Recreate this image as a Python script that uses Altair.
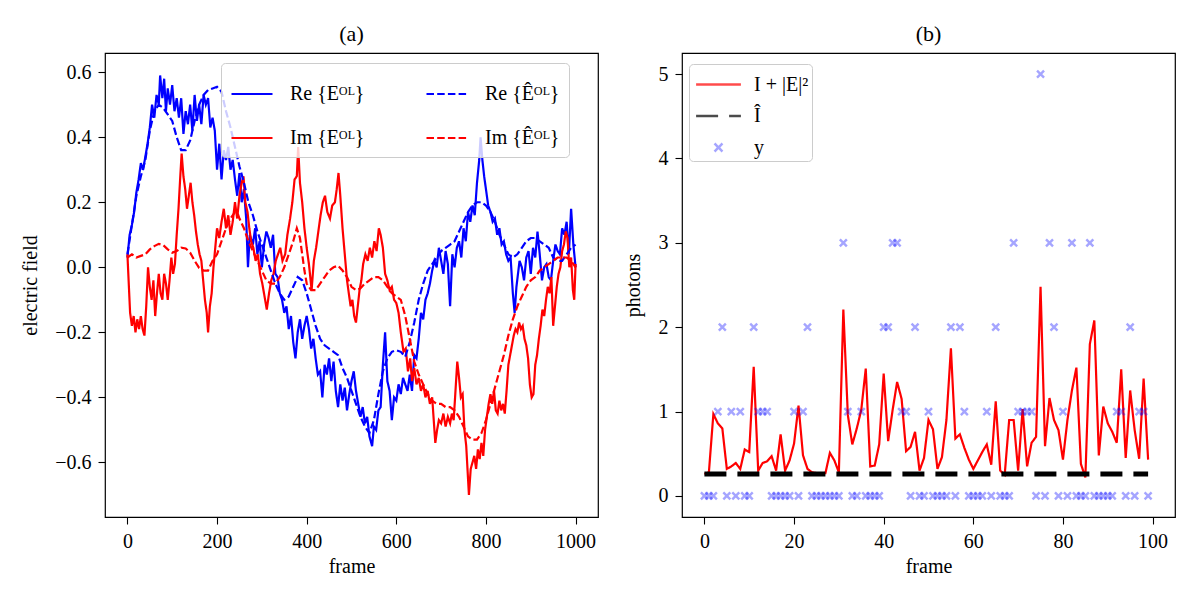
import altair as alt
import pandas as pd

FONT = "Liberation Serif"

# ---------------- panel (a): electric field, (frame, value) samples ----------------
re_field = [
    (0, 0.03), (5, 0.10), (10, 0.13), (15, 0.17), (20, 0.23), (25, 0.27), (30, 0.32), (35, 0.30),
    (40, 0.34), (45, 0.38), (50, 0.43), (55, 0.50), (60, 0.46), (65, 0.53), (70, 0.50), (73, 0.59),
    (78, 0.52), (82, 0.58), (86, 0.48), (90, 0.55), (95, 0.50), (100, 0.56), (105, 0.48), (110, 0.52),
    (115, 0.46), (120, 0.52), (125, 0.41), (130, 0.48), (135, 0.44), (140, 0.50), (145, 0.42),
    (150, 0.53), (155, 0.45), (160, 0.50), (165, 0.44), (170, 0.53), (175, 0.50), (180, 0.52),
    (185, 0.43), (190, 0.46), (195, 0.42), (200, 0.30), (205, 0.38), (210, 0.27), (215, 0.36),
    (220, 0.33), (225, 0.37), (230, 0.30), (235, 0.33), (240, 0.27), (245, 0.22), (250, 0.29),
    (255, 0.20), (260, 0.24), (265, 0.15), (269, 0.00), (273, 0.10), (280, 0.07), (285, 0.12),
    (290, 0.04), (295, 0.08), (300, 0.00), (305, 0.07), (310, 0.11), (315, 0.09), (320, 0.06),
    (325, 0.10), (330, -0.02), (335, -0.03), (340, -0.08), (345, -0.10), (350, -0.14), (355, -0.12),
    (360, -0.19), (365, -0.15), (370, -0.23), (375, -0.28), (380, -0.20), (385, -0.16), (390, -0.22),
    (395, -0.18), (400, -0.15), (405, -0.19), (410, -0.25), (415, -0.22), (420, -0.28), (425, -0.33),
    (430, -0.32), (435, -0.40), (440, -0.30), (445, -0.33), (450, -0.28), (455, -0.35), (460, -0.29),
    (465, -0.38), (470, -0.43), (475, -0.36), (480, -0.41), (485, -0.37), (490, -0.44), (495, -0.39),
    (500, -0.35), (505, -0.32), (510, -0.38), (515, -0.42), (520, -0.46), (525, -0.43), (530, -0.48),
    (535, -0.46), (540, -0.52), (546, -0.55), (550, -0.49), (555, -0.50), (560, -0.44), (565, -0.43),
    (570, -0.30), (575, -0.20), (580, -0.35), (585, -0.38), (590, -0.47), (595, -0.40), (600, -0.41),
    (605, -0.36), (610, -0.39), (615, -0.34), (620, -0.36), (625, -0.38), (630, -0.33), (635, -0.38),
    (640, -0.27), (645, -0.28), (650, -0.22), (655, -0.14), (660, -0.16), (665, -0.10), (670, -0.08),
    (675, -0.05), (680, -0.01), (685, 0.02), (690, 0.00), (695, 0.06), (700, 0.02), (705, -0.02),
    (710, 0.05), (715, 0.01), (720, -0.12), (725, 0.04), (730, 0.00), (735, 0.06), (740, 0.08),
    (745, 0.03), (750, 0.12), (755, 0.08), (760, 0.17), (765, 0.14), (770, 0.19), (775, 0.16),
    (780, 0.26), (785, 0.33), (788, 0.40), (792, 0.33), (796, 0.28), (800, 0.24), (805, 0.19),
    (810, 0.17), (815, 0.14), (820, 0.15), (825, 0.10), (830, 0.12), (835, 0.07), (840, 0.08),
    (845, 0.04), (850, 0.02), (855, 0.03), (860, -0.08), (864, -0.14), (868, -0.06), (875, 0.02),
    (880, 0.00), (885, -0.04), (890, 0.03), (895, 0.05), (900, -0.02), (905, 0.06), (910, 0.03),
    (915, 0.11), (920, 0.04), (925, -0.04), (930, 0.00), (935, 0.01), (940, -0.03), (945, -0.04),
    (950, 0.02), (955, 0.07), (960, 0.05), (965, 0.04), (970, 0.12), (975, 0.10), (980, 0.14),
    (985, 0.04), (990, 0.18), (995, 0.07), (1000, 0.00),
]

im_field = [
    (0, 0.04), (3, -0.05), (6, -0.14), (10, -0.18), (14, -0.15), (18, -0.20), (22, -0.16), (26, -0.19),
    (30, -0.15), (34, -0.19), (38, -0.21), (42, -0.12), (46, 0.00), (50, -0.06), (54, -0.10),
    (58, -0.04), (62, -0.15), (66, -0.08), (70, -0.02), (74, -0.08), (78, -0.10), (82, -0.02),
    (86, -0.05), (90, -0.10), (94, -0.04), (98, 0.03), (102, -0.02), (106, 0.01), (110, 0.10),
    (114, 0.18), (118, 0.28), (121, 0.35), (125, 0.28), (129, 0.24), (133, 0.18), (137, 0.22),
    (141, 0.26), (145, 0.20), (149, 0.16), (153, 0.11), (157, 0.07), (161, 0.04), (165, 0.02),
    (169, -0.04), (173, -0.10), (177, -0.14), (180, -0.20), (184, -0.12), (188, -0.08), (192, 0.00),
    (196, 0.06), (200, 0.12), (205, 0.09), (210, 0.14), (215, 0.18), (220, 0.12), (225, 0.16),
    (230, 0.10), (235, 0.14), (240, 0.20), (245, 0.15), (250, 0.22), (255, 0.26), (259, 0.28),
    (263, 0.20), (268, 0.17), (272, 0.12), (276, 0.08), (281, 0.06), (286, 0.02), (291, 0.04),
    (296, -0.02), (301, -0.05), (306, -0.09), (311, -0.13), (316, -0.08), (321, -0.04), (326, -0.02),
    (331, 0.02), (336, 0.04), (341, 0.06), (346, 0.02), (352, 0.04), (357, 0.10), (363, 0.15),
    (368, 0.20), (373, 0.27), (378, 0.28), (381, 0.37), (385, 0.26), (390, 0.20), (395, 0.12),
    (400, 0.06), (405, 0.01), (411, -0.07), (416, 0.02), (421, 0.06), (426, 0.11), (431, 0.16),
    (436, 0.20), (441, 0.22), (446, 0.17), (452, 0.15), (457, 0.19), (463, 0.20), (467, 0.24),
    (471, 0.29), (475, 0.22), (480, 0.12), (485, 0.04), (490, -0.04), (494, -0.08), (498, -0.12),
    (502, -0.10), (506, -0.15), (510, -0.17), (514, -0.12), (518, -0.07), (522, -0.04), (526, 0.01),
    (531, 0.04), (536, 0.02), (541, 0.06), (546, 0.03), (551, 0.08), (556, 0.05), (561, 0.12),
    (565, 0.10), (570, 0.06), (575, -0.02), (580, -0.04), (585, -0.07), (590, -0.06), (595, -0.10),
    (600, -0.11), (605, -0.14), (610, -0.20), (616, -0.26), (621, -0.25), (626, -0.32), (631, -0.28),
    (635, -0.35), (640, -0.31), (645, -0.36), (650, -0.34), (655, -0.38), (660, -0.36), (665, -0.40),
    (670, -0.38), (675, -0.42), (680, -0.40), (684, -0.48), (687, -0.54), (691, -0.50), (695, -0.47),
    (700, -0.48), (705, -0.45), (710, -0.49), (715, -0.46), (720, -0.48), (724, -0.45), (728, -0.47),
    (732, -0.38), (736, -0.29), (740, -0.34), (744, -0.40), (748, -0.39), (752, -0.50), (756, -0.55),
    (760, -0.65), (762, -0.70), (766, -0.62), (770, -0.60), (774, -0.58), (778, -0.62), (782, -0.56),
    (786, -0.59), (790, -0.54), (794, -0.58), (798, -0.50), (802, -0.46), (806, -0.42), (810, -0.39),
    (814, -0.42), (818, -0.38), (822, -0.44), (826, -0.45), (830, -0.41), (834, -0.44), (838, -0.42),
    (842, -0.45), (846, -0.38), (850, -0.30), (854, -0.27), (858, -0.24), (862, -0.21), (866, -0.19),
    (870, -0.20), (874, -0.17), (878, -0.19), (882, -0.18), (886, -0.22), (890, -0.24), (894, -0.28),
    (898, -0.36), (902, -0.40), (906, -0.39), (910, -0.30), (914, -0.27), (918, -0.22), (922, -0.18),
    (926, -0.13), (930, -0.15), (934, -0.10), (938, -0.06), (942, -0.08), (946, -0.03), (950, -0.18),
    (954, -0.12), (958, -0.06), (962, -0.02), (966, 0.00), (970, 0.05), (974, 0.07), (978, 0.11),
    (982, 0.09), (986, 0.00), (990, 0.03), (994, -0.07), (997, -0.10), (1000, 0.01),
]

re_field_est = [
    (0, 0.04), (10, 0.13), (20, 0.22), (30, 0.28), (40, 0.33), (50, 0.42), (60, 0.48), (70, 0.50),
    (80, 0.49), (90, 0.47), (100, 0.45), (110, 0.40), (120, 0.36), (130, 0.36), (140, 0.39),
    (150, 0.45), (160, 0.50), (170, 0.53), (180, 0.545), (190, 0.55), (200, 0.555), (210, 0.54),
    (220, 0.48), (230, 0.43), (240, 0.37), (250, 0.31), (260, 0.26), (270, 0.20), (280, 0.16),
    (290, 0.11), (300, 0.07), (310, 0.03), (320, -0.01), (330, -0.05), (340, -0.08), (350, -0.10),
    (360, -0.09), (370, -0.06), (380, -0.03), (390, -0.04), (400, -0.08), (410, -0.13), (420, -0.18),
    (430, -0.22), (440, -0.24), (450, -0.25), (460, -0.26), (470, -0.27), (480, -0.31), (490, -0.34),
    (500, -0.38), (510, -0.42), (520, -0.46), (530, -0.49), (540, -0.51), (550, -0.47), (560, -0.39),
    (570, -0.32), (580, -0.28), (590, -0.26), (600, -0.255), (610, -0.26), (620, -0.275), (630, -0.23),
    (640, -0.17), (650, -0.10), (660, -0.05), (670, -0.01), (680, 0.01), (690, 0.03), (700, 0.05),
    (710, 0.06), (720, 0.07), (730, 0.08), (740, 0.11), (750, 0.14), (760, 0.17), (770, 0.19),
    (780, 0.20), (790, 0.20), (800, 0.19), (810, 0.17), (820, 0.14), (830, 0.10), (840, 0.07),
    (850, 0.04), (860, 0.03), (870, 0.04), (880, 0.06), (890, 0.08), (900, 0.09), (910, 0.09),
    (920, 0.08), (930, 0.07), (940, 0.06), (950, 0.03), (960, 0.02), (970, 0.02), (980, 0.04),
    (990, 0.06), (1000, 0.07),
]

im_field_est = [
    (0, 0.03), (10, 0.04), (20, 0.03), (30, 0.035), (40, 0.04), (50, 0.055), (60, 0.065), (70, 0.072),
    (80, 0.068), (90, 0.055), (100, 0.045), (110, 0.05), (120, 0.06), (130, 0.058), (140, 0.045),
    (150, 0.02), (160, -0.002), (170, -0.01), (180, -0.01), (190, 0.02), (200, 0.04), (210, 0.08),
    (220, 0.12), (230, 0.15), (240, 0.17), (245, 0.17), (250, 0.15), (260, 0.12), (270, 0.08),
    (280, 0.05), (290, 0.02), (300, -0.01), (310, -0.04), (320, -0.05), (330, -0.05), (340, -0.03),
    (350, 0.00), (360, 0.04), (370, 0.08), (378, 0.12), (385, 0.09), (390, 0.04), (395, -0.01),
    (400, -0.05), (410, -0.07), (420, -0.07), (430, -0.05), (440, -0.03), (450, -0.01), (460, 0.00),
    (470, 0.005), (480, -0.01), (490, -0.03), (500, -0.06), (510, -0.07), (520, -0.065), (530, -0.05),
    (540, -0.04), (550, -0.03), (560, -0.03), (570, -0.04), (580, -0.06), (590, -0.08), (600, -0.09),
    (610, -0.10), (620, -0.15), (630, -0.22), (640, -0.29), (650, -0.33), (660, -0.36), (670, -0.39),
    (680, -0.41), (690, -0.42), (700, -0.42), (710, -0.43), (720, -0.43), (730, -0.44), (740, -0.46),
    (750, -0.49), (760, -0.52), (770, -0.53), (780, -0.53), (790, -0.51), (800, -0.47), (810, -0.42),
    (820, -0.37), (830, -0.32), (840, -0.27), (850, -0.21), (860, -0.16), (870, -0.12), (880, -0.09),
    (890, -0.06), (900, -0.04), (910, -0.03), (920, -0.01), (930, 0.00), (940, 0.01), (950, 0.02),
    (960, 0.03), (970, 0.03), (980, 0.03), (990, 0.02), (1000, 0.00),
]

# ---------------- panel (b): photons per frame ----------------
photon_frames = list(range(100))
intensity_plus_field = [
    0.26, 0.28, 0.97, 0.86, 0.80, 0.32, 0.35, 0.39, 0.32, 0.55,
    0.52, 1.53, 0.30, 0.39, 0.41, 0.47, 0.30, 0.73, 0.30, 0.42,
    0.62, 1.07, 0.48, 0.32, 0.28, 0.27, 0.27, 0.27, 0.51, 0.42,
    0.28, 2.21, 0.96, 0.61, 0.80, 1.02, 1.51, 0.35, 0.36, 0.61,
    1.45, 0.65, 1.02, 1.35, 1.15, 0.53, 0.58, 0.76, 0.30, 0.45,
    0.90, 0.79, 0.32, 0.46, 0.90, 1.75, 0.68, 0.73, 0.57, 0.43,
    0.32, 0.42, 0.52, 0.61, 0.37, 1.12, 0.30, 0.25, 0.90, 0.90,
    0.30, 1.03, 0.35, 0.63, 0.70, 2.48, 0.59, 1.16, 0.90, 0.78,
    0.43, 0.90, 1.25, 1.52, 0.38, 0.22, 1.80, 2.08, 0.48, 1.06,
    0.86, 0.76, 0.63, 1.50, 0.45, 1.25, 0.78, 0.44, 1.39, 0.43,
]
intensity_est = 0.26
photon_counts = [
    0, 0, 0, 1, 2, 0, 1, 0, 1, 0,
    0, 2, 1, 1, 1, 0, 0, 0, 0, 0,
    1, 0, 1, 2, 0, 0, 0, 0, 0, 0,
    0, 3, 1, 0, 0, 1, 0, 0, 0, 0,
    2, 2, 3, 3, 1, 1, 0, 2, 0, 0,
    1, 0, 0, 0, 0, 2, 0, 2, 1, 0,
    0, 0, 0, 1, 0, 2, 0, 0, 0, 3,
    1, 1, 1, 1, 0, 5, 0, 3, 2, 0,
    1, 0, 3, 0, 0, 0, 3, 0, 0, 0,
    0, 0, 1, 1, 0, 2, 0, 1, 1, 0,
]

LBL_RE = "Re {E\u1d3c\u1d38}"
LBL_IM = "Im {E\u1d3c\u1d38}"
LBL_RE_EST = "Re {\u00ca\u1d3c\u1d38}"
LBL_IM_EST = "Im {\u00ca\u1d3c\u1d38}"
LBL_I = "I + |E|\u00b2"
LBL_IHAT = "\u00ce"
LBL_Y = "y"


def pairs_table(pairs, name):
    return pd.DataFrame({"frame": [p[0] for p in pairs],
                         "value": [p[1] for p in pairs],
                         "series": name})


SOLID = [1, 0]
FIELD_DASH = [7.5, 3.2]
LINE_W = 2.2

# ---------- (a) ----------
# legend columns are filled top-to-bottom, so the true fields come first
field_domain = [LBL_RE, LBL_IM, LBL_RE_EST, LBL_IM_EST]
legend_a = alt.Legend(
    title=None, orient="none", legendX=116, legendY=10, columns=2,
    columnPadding=57, rowPadding=12, padding=9,
    symbolType="stroke", symbolSize=1681, symbolStrokeWidth=LINE_W,
    labelOffset=16, labelFont=FONT, labelFontSize=20, labelColor="black",
    fillColor="rgba(255,255,255,0.8)", strokeColor="#cccccc", cornerRadius=4,
)
x_a = alt.X("frame:Q", title="frame",
            scale=alt.Scale(domain=[-50, 1050], nice=False, zero=False),
            axis=alt.Axis(values=[0, 200, 400, 600, 800, 1000], format="d"))
y_a = alt.Y("value:Q", title="electric field",
            scale=alt.Scale(domain=[-0.768, 0.659], nice=False, zero=False),
            axis=alt.Axis(values=[-0.6, -0.4, -0.2, 0.0, 0.2, 0.4, 0.6], format=".1f",
                          titlePadding=14))
color_a = alt.Color("series:N",
                    scale=alt.Scale(domain=field_domain,
                                    range=["#0000ff", "#ff0000", "#0000ff", "#ff0000"]),
                    legend=legend_a)
dash_a = alt.StrokeDash("series:N",
                        scale=alt.Scale(domain=field_domain,
                                        range=[SOLID, SOLID, FIELD_DASH, FIELD_DASH]),
                        legend=legend_a)

field_layers = [
    alt.Chart(pairs_table(pairs, name)).mark_line(strokeWidth=LINE_W).encode(
        x=x_a, y=y_a, color=color_a, strokeDash=dash_a)
    for pairs, name in [(re_field, LBL_RE), (im_field, LBL_IM),
                        (re_field_est, LBL_RE_EST), (im_field_est, LBL_IM_EST)]
]
panel_a = alt.layer(*field_layers).properties(width=493, height=464, title="(a)")

# ---------- (b) ----------
LINE_GLYPH = "M-1.4,0L1.4,0"
CROSS_GLYPH = "M-0.25,-0.25L0.25,0.25M-0.25,0.25L0.25,-0.25"
photon_domain = [LBL_I, LBL_IHAT, LBL_Y]
legend_b = alt.Legend(
    title=None, orient="none", legendX=7, legendY=11, rowPadding=3.5, padding=3,
    symbolSize=1024, symbolStrokeWidth=2.5, symbolOffset=9, labelOffset=18,
    labelFont=FONT, labelFontSize=20, labelColor="black",
    fillColor="rgba(255,255,255,0.8)", strokeColor="#cccccc", cornerRadius=4,
)
x_b = alt.X("frame:Q", title="frame",
            scale=alt.Scale(domain=[-5, 105], nice=False, zero=False),
            axis=alt.Axis(values=[0, 20, 40, 60, 80, 100], format="d"))
y_b = alt.Y("value:Q", title="photons",
            scale=alt.Scale(domain=[-0.25, 5.25], nice=False, zero=False),
            axis=alt.Axis(values=[0, 1, 2, 3, 4, 5], format="d", titlePadding=15))
color_b = alt.Color("series:N",
                    scale=alt.Scale(domain=photon_domain,
                                    range=["#ff0000", "#000000", "rgba(0,0,255,0.5)"]),
                    legend=legend_b)
dash_b = alt.StrokeDash("series:N",
                        scale=alt.Scale(domain=photon_domain, range=[SOLID, [22, 11], SOLID]),
                        legend=legend_b)
shape_b = alt.Shape("series:N",
                    scale=alt.Scale(domain=photon_domain,
                                    range=[LINE_GLYPH, LINE_GLYPH, CROSS_GLYPH]),
                    legend=legend_b)

intensity_df = pd.DataFrame({"frame": photon_frames, "value": intensity_plus_field,
                             "series": LBL_I})
estimate_df = pd.DataFrame({"frame": photon_frames,
                            "value": [intensity_est] * len(photon_frames),
                            "series": LBL_IHAT})
counts_df = pd.DataFrame({"frame": photon_frames, "value": photon_counts, "series": LBL_Y})

panel_b = alt.layer(
    alt.Chart(intensity_df).mark_line(strokeWidth=LINE_W).encode(
        x=x_b, y=y_b, color=color_b, strokeDash=dash_b),
    alt.Chart(estimate_df).mark_line(strokeWidth=5).encode(
        x=x_b, y=y_b, color=color_b, strokeDash=dash_b),
    alt.Chart(counts_df).mark_point(size=784, strokeWidth=2.4, filled=False).encode(
        x=x_b, y=y_b, color=color_b, shape=shape_b),
).properties(width=493, height=464, title="(b)")

chart = (
    alt.hconcat(panel_a, panel_b, spacing=23)
    .resolve_scale(color="independent", strokeDash="independent", shape="independent")
    .resolve_legend(color="independent", strokeDash="independent", shape="independent")
    .properties(padding={"left": 20, "top": 22, "right": 5, "bottom": 5})
    .configure_view(stroke="black", strokeWidth=1.2)
    .configure_axis(domain=False, grid=False, tickColor="black", tickSize=7, tickWidth=1.1,
                    labelColor="black", labelFont=FONT, labelFontSize=20, labelPadding=7,
                    titleFont=FONT, titleFontSize=20, titleFontWeight="normal",
                    titleColor="black", titlePadding=5)
    .configure_title(font=FONT, fontSize=22, fontWeight="normal", color="black",
                     anchor="middle", offset=7)
    .configure_legend(labelLimit=0)
)

chart.save("out.html", embed_options={"renderer": "svg", "actions": False})
